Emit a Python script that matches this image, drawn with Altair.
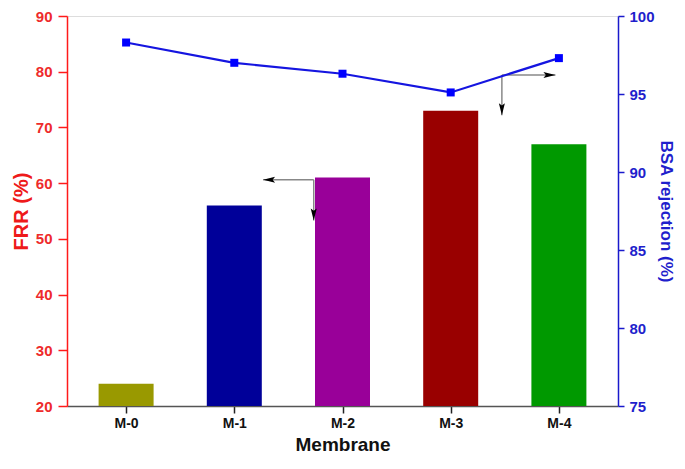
import altair as alt
import pandas as pd

# ---- data ----
membranes = ["M-0", "M-1", "M-2", "M-3", "M-4"]
frr = [24.0, 56.0, 61.0, 73.0, 67.0]
bsa_rejection = [98.3, 97.0, 96.3, 95.1, 97.3]
bar_colors = ["#999900", "#000099", "#990099", "#990000", "#009900"]

# annotation arrows (x in category-index units, y in FRR units)
arrow_corner_x = [1.734, 3.473]
arrow_corner_y = [60.6, 79.4]
arrow_tip_x = [1.266, 3.968]
arrow_tip_y = [53.3, 72.2]
arrow_dir = ["left", "right"]

FONT = "Liberation Sans"
LEFT_RED = "#FF1A1A"
RIGHT_BLUE = "#1A1ACC"

idx = list(range(len(membranes)))
df = pd.DataFrame({"idx": idx, "membrane": membranes, "frr": frr,
                   "bsa": bsa_rejection})

shafts = pd.DataFrame({
    "idx": arrow_corner_x + arrow_corner_x,
    "x2": arrow_tip_x + arrow_corner_x,
    "frr": arrow_corner_y + arrow_corner_y,
    "y2": arrow_corner_y + arrow_tip_y,
})
heads = pd.DataFrame({
    "idx": arrow_tip_x + arrow_corner_x,
    "frr": arrow_corner_y + arrow_tip_y,
    "dir": arrow_dir + ["down", "down"],
})

label_expr = "[" + ",".join("'%s'" % m for m in membranes) + "][datum.value]"

x_scale = alt.Scale(domain=[-0.5, len(membranes) - 0.5], nice=False, zero=False)
y_left = alt.Scale(domain=[20, 90], nice=False, zero=False)
y_right = alt.Scale(domain=[75, 100], nice=False, zero=False)

x_axis = alt.Axis(
    title="Membrane", values=idx, labelExpr=label_expr, grid=False,
    domainColor="#555555", domainWidth=1.5, tickColor="#222222", tickSize=7,
    tickWidth=1.5, labelColor="#111111", labelFont=FONT, labelFontSize=14,
    labelFontWeight="bold", labelPadding=3, titleFont=FONT, titleFontSize=19,
    titleFontWeight="bold", titleColor="#111111", titlePadding=5,
)
left_axis = alt.Axis(
    title="FRR (%)", values=[20, 30, 40, 50, 60, 70, 80, 90], grid=False,
    domainColor=LEFT_RED, domainWidth=1.5, tickColor=LEFT_RED, tickSize=9,
    tickWidth=1.5, labelColor="#EE2B2B", labelFont=FONT, labelFontSize=15,
    labelFontWeight="bold", labelPadding=6, titleFont=FONT, titleFontSize=20,
    titleFontWeight="bold", titleColor="#EE1A1A", titlePadding=4,
)
right_axis = alt.Axis(
    title="BSA rejection (%)", orient="right", values=[75, 80, 85, 90, 95, 100],
    grid=False, domainColor=RIGHT_BLUE, domainWidth=1.5, tickColor=RIGHT_BLUE,
    tickSize=6, tickWidth=1.5, labelColor="#1F1FCC", labelFont=FONT, labelFontSize=15,
    labelFontWeight="bold", labelPadding=5, titleFont=FONT, titleFontSize=17,
    titleFontWeight="bold", titleColor="#1F1FCC", titlePadding=2,
)

X = alt.X("idx:Q", scale=x_scale, axis=x_axis)
YL = alt.Y("frr:Q", scale=y_left, axis=left_axis)
YR = alt.Y("bsa:Q", scale=y_right, axis=right_axis)

bars = alt.Chart(df).mark_bar(size=55).encode(
    x=X,
    y=YL,
    y2=alt.datum(20),
    color=alt.Color("membrane:N", scale=alt.Scale(domain=membranes, range=bar_colors),
                    legend=None),
)

rules = alt.Chart(shafts).mark_rule(color="#888888", strokeWidth=1.5).encode(
    x=X, x2="x2:Q", y=YL, y2="y2:Q",
)

path_left = "M0,0L2,-0.5L1.6,0L2,0.5Z"
path_right = "M0,0L-2,-0.5L-1.6,0L-2,0.5Z"
path_down = "M0,0L-0.5,-2L0,-1.6L0.5,-2Z"

arrowheads = alt.Chart(heads).mark_point(filled=True, color="#000000", opacity=1,
                                         size=144, strokeWidth=0).encode(
    x=X,
    y=YL,
    shape=alt.Shape("dir:N", scale=alt.Scale(domain=["left", "right", "down"],
                                             range=[path_left, path_right, path_down]),
                    legend=None),
)

left_layer = alt.layer(bars, rules, arrowheads)

line = alt.Chart(df).mark_line(color="#1515E0", strokeWidth=2.2).encode(x=X, y=YR)
points = alt.Chart(df).mark_point(shape="square", filled=True, color="#0000FF",
                                  size=64, opacity=1).encode(x=X, y=YR)
right_layer = alt.layer(line, points)

chart = alt.layer(left_layer, right_layer).resolve_scale(
    y="independent"
).properties(
    width=551, height=390,
    autosize=alt.AutoSizeParams(type="none"),
    padding={"left": 59, "top": 8, "right": 59, "bottom": 55},
).configure_view(stroke="#555555", strokeWidth=1.5).configure(background="white")

chart.save("out.html", embed_options={"renderer": "svg", "actions": False})
